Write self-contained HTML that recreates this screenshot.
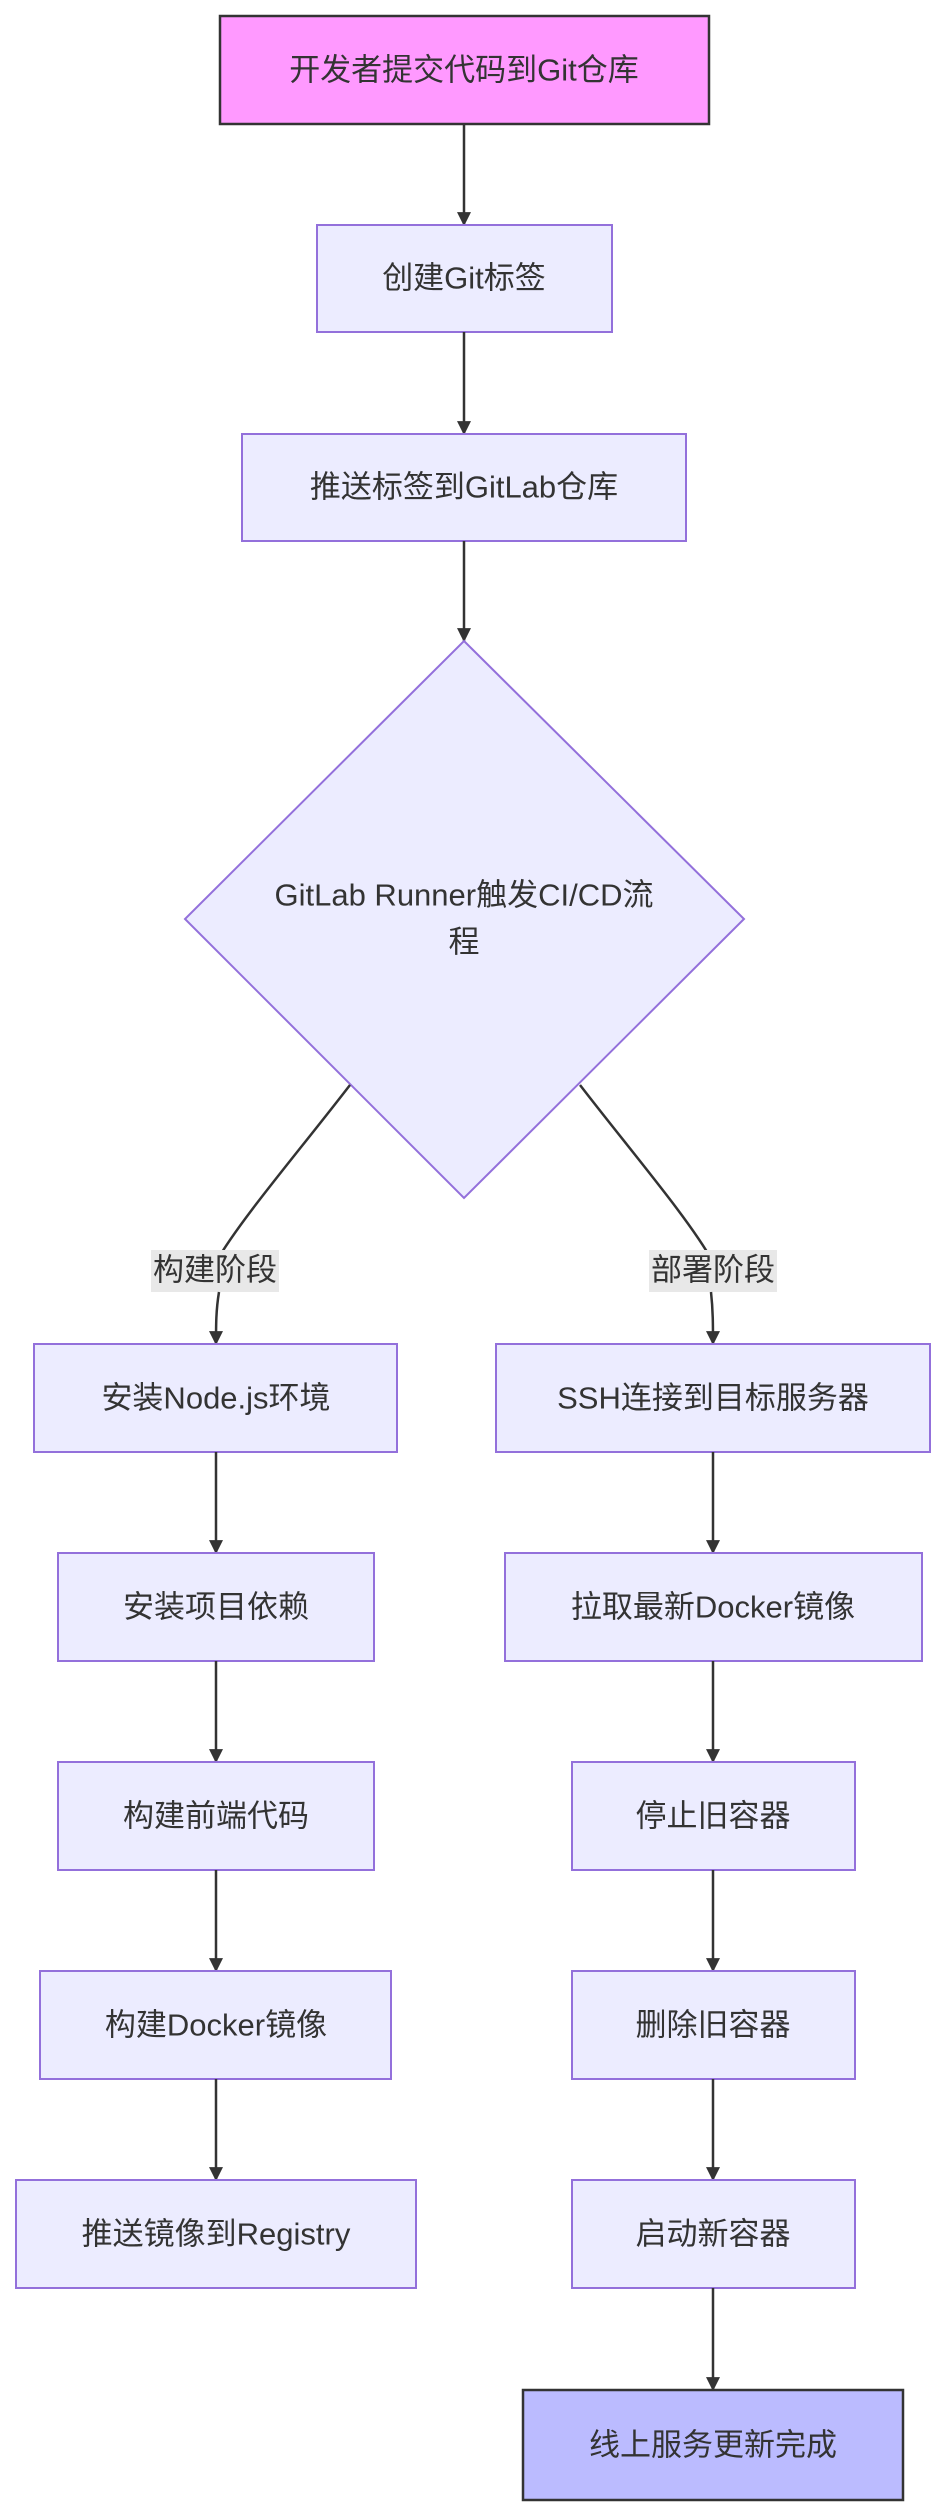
<!DOCTYPE html>
<html><head><meta charset="utf-8"><style>
html,body{margin:0;padding:0;background:#fff;}
svg{display:block;}
text{font-family:"Liberation Sans","Noto Sans CJK SC",sans-serif;font-size:31px;fill:#333;text-anchor:middle;dominant-baseline:central;}
.n{fill:#ECECFF;stroke:#9370DB;stroke-width:2;}
.e{fill:none;stroke:#333;stroke-width:2.5;}
</style></head><body>
<svg width="941" height="2508" viewBox="0 0 941 2508" xmlns="http://www.w3.org/2000/svg">
<defs><marker id="a" viewBox="0 0 10 10" refX="9" refY="5" markerWidth="7" markerHeight="7" markerUnits="userSpaceOnUse" orient="auto"><path d="M0,0L10,5L0,10z" fill="#333"/></marker>
<marker id="m" viewBox="0 0 12 12" refX="11" refY="6" markerWidth="14" markerHeight="14" orient="auto" markerUnits="userSpaceOnUse"><path d="M0,0L12,6L0,12z" fill="#333"/></marker></defs>

<!-- top chain -->
<rect x="220" y="16" width="489" height="108" fill="#FF99FF" stroke="#333" stroke-width="2.5"/>
<text x="464" y="70">开发者提交代码到Git仓库</text>
<path class="e" d="M464,124V225" marker-end="url(#m)"/>
<rect class="n" x="317" y="225" width="295" height="107"/>
<text x="464" y="278">创建Git标签</text>
<path class="e" d="M464,332V434" marker-end="url(#m)"/>
<rect class="n" x="242" y="434" width="444" height="107"/>
<text x="464" y="487">推送标签到GitLab仓库</text>
<path class="e" d="M464,541V641" marker-end="url(#m)"/>
<polygon class="n" points="464,641 744,919 464,1198 185,919"/>
<text x="464" y="895">GitLab Runner触发CI/CD流</text>
<text x="464" y="942">程</text>

<!-- branches -->
<path class="e" d="M350,1085C300,1150 240,1220 216,1262"/>
<path class="e" d="M580,1085C630,1150 690,1220 713,1262"/>
<rect x="151" y="1250" width="128" height="42" fill="#E8E8E8"/>
<text x="215" y="1270">构建阶段</text>
<rect x="649" y="1250" width="128" height="42" fill="#E8E8E8"/>
<text x="713" y="1270">部署阶段</text>
<path class="e" d="M219,1292C216,1310 216,1325 216,1344" marker-end="url(#m)"/>
<path class="e" d="M711,1292C713,1310 713,1325 713,1344" marker-end="url(#m)"/>

<!-- left column -->
<rect class="n" x="34" y="1344" width="363" height="108"/><text x="216" y="1398">安装Node.js环境</text>
<path class="e" d="M216,1452V1553" marker-end="url(#m)"/>
<rect class="n" x="58" y="1553" width="316" height="108"/><text x="216" y="1607">安装项目依赖</text>
<path class="e" d="M216,1661V1762" marker-end="url(#m)"/>
<rect class="n" x="58" y="1762" width="316" height="108"/><text x="216" y="1816">构建前端代码</text>
<path class="e" d="M216,1870V1971" marker-end="url(#m)"/>
<rect class="n" x="40" y="1971" width="351" height="108"/><text x="216" y="2025">构建Docker镜像</text>
<path class="e" d="M216,2079V2180" marker-end="url(#m)"/>
<rect class="n" x="16" y="2180" width="400" height="108"/><text x="216" y="2234">推送镜像到Registry</text>

<!-- right column -->
<rect class="n" x="496" y="1344" width="434" height="108"/><text x="713" y="1398">SSH连接到目标服务器</text>
<path class="e" d="M713,1452V1553" marker-end="url(#m)"/>
<rect class="n" x="505" y="1553" width="417" height="108"/><text x="713" y="1607">拉取最新Docker镜像</text>
<path class="e" d="M713,1661V1762" marker-end="url(#m)"/>
<rect class="n" x="572" y="1762" width="283" height="108"/><text x="713" y="1816">停止旧容器</text>
<path class="e" d="M713,1870V1971" marker-end="url(#m)"/>
<rect class="n" x="572" y="1971" width="283" height="108"/><text x="713" y="2025">删除旧容器</text>
<path class="e" d="M713,2079V2180" marker-end="url(#m)"/>
<rect class="n" x="572" y="2180" width="283" height="108"/><text x="713" y="2234">启动新容器</text>
<path class="e" d="M713,2288V2390" marker-end="url(#m)"/>
<rect x="523" y="2390" width="380" height="110" fill="#BBBBFF" stroke="#333" stroke-width="2.5"/><text x="713" y="2445">线上服务更新完成</text>
</svg>
</body></html>
